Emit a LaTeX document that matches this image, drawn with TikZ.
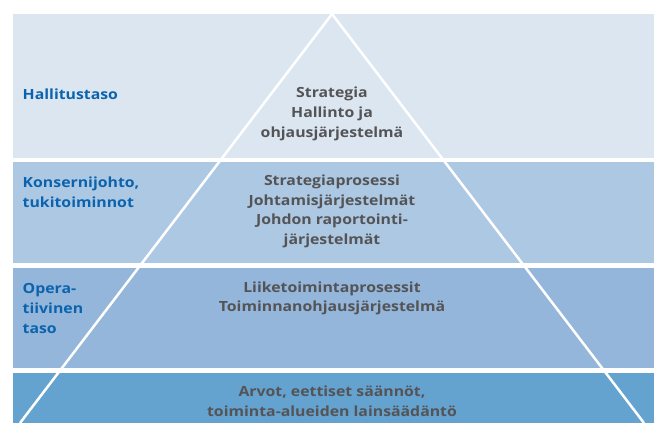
\documentclass[tikz,border=0pt]{standalone}
\usepackage{fontspec}
\setmainfont{Open Sans}[Ligatures={NoCommon},FakeStretch=1.13]
\definecolor{bandA}{HTML}{DCE6F1}
\definecolor{bandB}{HTML}{ADC8E3}
\definecolor{bandC}{HTML}{93B6DA}
\definecolor{bandD}{HTML}{64A2D0}
\definecolor{lblblue}{HTML}{0B63AE}
\definecolor{txtgray}{HTML}{545456}
\begin{document}
\begin{tikzpicture}[x=1bp,y=-1bp,
  band/.style={fill=#1,draw=none},
  levellabel/.style={anchor=west,align=left,inner sep=0pt,text=lblblue,
    font=\fontsize{14bp}{19.7bp}\selectfont\bfseries},
  content/.style={anchor=center,align=center,inner sep=0pt,text=txtgray,
    font=\fontsize{14bp}{19.7bp}\selectfont\bfseries},
  edge/.style={draw=white,line width=2.5bp}]
\useasboundingbox (0,0) rectangle (654,423);
\fill[white] (0,0) rectangle (654,423);
\path[band=bandA] (13,14) rectangle (654,157.5);
\path[band=bandB] (13,162) rectangle (654,262.5);
\path[band=bandC] (13,267.5) rectangle (654,368);
\path[band=bandD] (13,372.5) rectangle (654,423);
\coordinate (bl) at (20,423);
\coordinate (apex) at (332,14);
\coordinate (br) at (644,423);
\draw[edge] (bl) -- (apex) -- (br);
\node[levellabel] (l1) at (22.5,94) {Hallitustaso};
\node[levellabel] (l2) at (22.5,192.5) {Konsernijohto,\\tukitoiminnot};
\node[levellabel] (l3) at (22.5,308.5) {Opera-\\tiivinen\\taso};
\node[content] (c1) at (332,114) {Strategia\\Hallinto ja\\ohjausjärjestelmä};
\node[content] (c2) at (332,211.5) {Strategiaprosessi\\Johtamisjärjestelmät\\Johdon raportointi-\\järjestelmät};
\node[content] (c3) at (332,298.5) {Liiketoimintaprosessit\\Toiminnanohjausjärjestelmä};
\node[content] (c4) at (332,401.5) {Arvot, eettiset säännöt,\\toiminta-alueiden lainsäädäntö};
\end{tikzpicture}
\end{document}
